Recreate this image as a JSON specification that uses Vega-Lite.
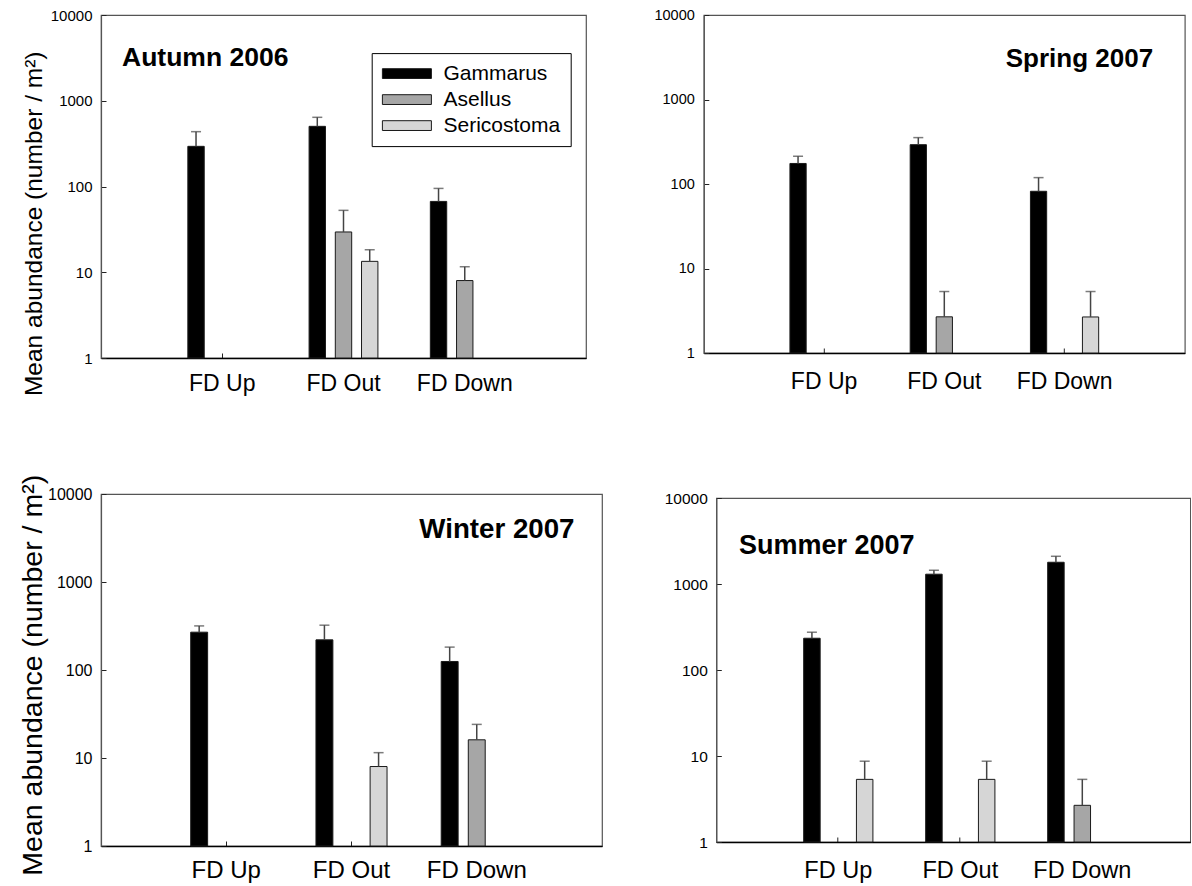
{
  "$schema": "https://vega.github.io/schema/vega-lite/v6.json",
  "padding": {"left": 17, "top": 6, "right": 0, "bottom": 0},
  "config": {
    "font": "Liberation Sans",
    "view": {"stroke": "#555555", "strokeWidth": 1.2},
    "axis": {"labelColor": "#000000", "titleColor": "#000000", "grid": false, "tickColor": "#222222", "labelFont": "Liberation Sans", "titleFont": "Liberation Sans", "titleFontWeight": "normal"},
    "axisX": {"domainColor": "#000000", "domainWidth": 1.5, "tickSize": -5, "tickWidth": 1, "labelAngle": 0},
    "axisY": {"domainColor": "#555555", "domainWidth": 1.2, "tickSize": -5, "tickWidth": 1},
    "title": {"font": "Liberation Sans", "color": "#000000", "fontWeight": "bold"}
  },
  "datasets": {
    "abund": [
      {"season": "Autumn 2006", "site": "FD Up", "species": "Gammarus", "mean": 294, "upper": 436},
      {"season": "Autumn 2006", "site": "FD Out", "species": "Gammarus", "mean": 503, "upper": 641},
      {"season": "Autumn 2006", "site": "FD Out", "species": "Asellus", "mean": 29.5, "upper": 52.7},
      {"season": "Autumn 2006", "site": "FD Out", "species": "Sericostoma", "mean": 13.4, "upper": 18.3},
      {"season": "Autumn 2006", "site": "FD Down", "species": "Gammarus", "mean": 67, "upper": 95},
      {"season": "Autumn 2006", "site": "FD Down", "species": "Asellus", "mean": 8.0, "upper": 11.6},
      {"season": "Spring 2007", "site": "FD Up", "species": "Gammarus", "mean": 175, "upper": 213},
      {"season": "Spring 2007", "site": "FD Out", "species": "Gammarus", "mean": 292, "upper": 354},
      {"season": "Spring 2007", "site": "FD Out", "species": "Asellus", "mean": 2.68, "upper": 5.34},
      {"season": "Spring 2007", "site": "FD Down", "species": "Gammarus", "mean": 82, "upper": 119},
      {"season": "Spring 2007", "site": "FD Down", "species": "Sericostoma", "mean": 2.67, "upper": 5.34},
      {"season": "Winter 2007", "site": "FD Up", "species": "Gammarus", "mean": 269, "upper": 317},
      {"season": "Winter 2007", "site": "FD Out", "species": "Gammarus", "mean": 220, "upper": 323},
      {"season": "Winter 2007", "site": "FD Out", "species": "Sericostoma", "mean": 8.0, "upper": 11.5},
      {"season": "Winter 2007", "site": "FD Down", "species": "Gammarus", "mean": 125, "upper": 182},
      {"season": "Winter 2007", "site": "FD Down", "species": "Asellus", "mean": 16.1, "upper": 24.1},
      {"season": "Summer 2007", "site": "FD Up", "species": "Gammarus", "mean": 234, "upper": 275},
      {"season": "Summer 2007", "site": "FD Up", "species": "Sericostoma", "mean": 5.35, "upper": 8.7},
      {"season": "Summer 2007", "site": "FD Out", "species": "Gammarus", "mean": 1300, "upper": 1445},
      {"season": "Summer 2007", "site": "FD Out", "species": "Sericostoma", "mean": 5.35, "upper": 8.7},
      {"season": "Summer 2007", "site": "FD Down", "species": "Gammarus", "mean": 1790, "upper": 2100},
      {"season": "Summer 2007", "site": "FD Down", "species": "Asellus", "mean": 2.67, "upper": 5.35}
    ]
  },
  "data": {"name": "abund"},
  "bounds": "flush",
  "spacing": 479,
  "resolve": {"scale": {"color": "independent", "xOffset": "independent"}, "legend": {"color": "independent"}},
  "vconcat": [
    {
      "hconcat": [
        {
          "width": 485, "height": 343,
          "title": {"text": "Autumn 2006", "anchor": "start", "frame": "group", "offset": -84.2, "dx": 21, "fontSize": 26.5, "baseline": "alphabetic"},
          "transform": [{"filter": "datum.season === 'Autumn 2006'"}],
          "encoding": {
            "x": {"field": "site", "type": "nominal", "title": null, "scale": {"domain": ["FD Up", "FD Out", "FD Down"], "paddingInner": 0, "paddingOuter": 0.5}, "axis": {"labelFontSize": 23, "labelPadding": 19}},
            "xOffset": {"field": "species", "type": "nominal", "scale": {"domain": ["Gammarus", "Asellus", "Sericostoma"], "paddingInner": 0.375, "paddingOuter": 1.1875}},
            "y": {"field": "mean", "type": "quantitative", "title": "Mean abundance (number / m²)", "scale": {"type": "log", "domain": [1, 10000]}, "axis": {"values": [1, 10, 100, 1000, 10000], "format": "d", "labelFontSize": 15, "labelPadding": 14, "titleFontSize": 24.5, "titleX": -59.6, "titleY": 208.3, "titleAngle": 270, "titleAlign": "center", "titleBaseline": "alphabetic"}}
          },
          "layer": [
            {
              "mark": {"type": "bar", "stroke": "#1a1a1a", "strokeWidth": 1},
              "encoding": {
                "y2": {"datum": 1},
                "color": {"field": "species", "type": "nominal", "scale": {"domain": ["Gammarus", "Asellus", "Sericostoma"], "range": ["#000000", "#a6a6a6", "#d6d6d6"]},
                  "legend": {"orient": "none", "legendX": 270.7, "legendY": 38.1, "title": null, "strokeColor": "#000000", "fillColor": "#ffffff", "padding": 10, "symbolType": "M-2.5,-0.5H2.5V0.5H-2.5Z", "symbolSize": 384, "symbolOffset": 14.7, "symbolStrokeColor": "#1a1a1a", "symbolStrokeWidth": 1, "labelFontSize": 21, "labelColor": "#000000", "labelOffset": 26.1, "rowPadding": 4}}
              }
            },
            {"mark": {"type": "rule", "color": "#444444", "strokeWidth": 1.5}, "encoding": {"y2": {"field": "upper"}}},
            {"mark": {"type": "tick", "orient": "horizontal", "size": 10, "thickness": 1.5, "color": "#444444"}, "encoding": {"y": {"field": "upper", "type": "quantitative", "title": "Mean abundance (number / m²)", "scale": {"type": "log", "domain": [1, 10000]}}}}
          ]
        },
        {
          "width": 481, "height": 338,
          "title": {"text": "Spring 2007", "anchor": "end", "frame": "group", "offset": -86.4, "dx": -31.7, "fontSize": 26, "baseline": "alphabetic"},
          "transform": [{"filter": "datum.season === 'Spring 2007'"}],
          "encoding": {
            "x": {"field": "site", "type": "nominal", "title": null, "scale": {"domain": ["FD Up", "FD Out", "FD Down"], "paddingInner": 0, "paddingOuter": 0.5}, "axis": {"labelFontSize": 23, "labelPadding": 22}},
            "xOffset": {"field": "species", "type": "nominal", "scale": {"domain": ["Gammarus", "Asellus", "Sericostoma"], "paddingInner": 0.375, "paddingOuter": 1.1875}},
            "y": {"field": "mean", "type": "quantitative", "title": null, "scale": {"type": "log", "domain": [1, 10000]}, "axis": {"values": [1, 10, 100, 1000, 10000], "format": "d", "labelFontSize": 14.5, "labelPadding": 14.5}}
          },
          "layer": [
            {
              "mark": {"type": "bar", "stroke": "#1a1a1a", "strokeWidth": 1},
              "encoding": {
                "y2": {"datum": 1},
                "color": {"field": "species", "type": "nominal", "scale": {"domain": ["Gammarus", "Asellus", "Sericostoma"], "range": ["#000000", "#a6a6a6", "#d6d6d6"]}, "legend": null}
              }
            },
            {"mark": {"type": "rule", "color": "#444444", "strokeWidth": 1.5}, "encoding": {"y2": {"field": "upper"}}},
            {"mark": {"type": "tick", "orient": "horizontal", "size": 10, "thickness": 1.5, "color": "#444444"}, "encoding": {"y": {"field": "upper", "type": "quantitative", "title": null, "scale": {"type": "log", "domain": [1, 10000]}}}}
          ]
        }
      ],
      "spacing": 117.8,
      "bounds": "flush",
      "resolve": {"scale": {"color": "independent", "xOffset": "independent"}, "legend": {"color": "independent"}}
    },
    {
      "hconcat": [
        {
          "width": 501, "height": 352,
          "title": {"text": "Winter 2007", "anchor": "end", "frame": "group", "offset": -91, "dx": -27.5, "fontSize": 27.7, "baseline": "alphabetic"},
          "transform": [{"filter": "datum.season === 'Winter 2007'"}],
          "encoding": {
            "x": {"field": "site", "type": "nominal", "title": null, "scale": {"domain": ["FD Up", "FD Out", "FD Down"], "paddingInner": 0, "paddingOuter": 0.5}, "axis": {"labelFontSize": 24, "labelPadding": 17}},
            "xOffset": {"field": "species", "type": "nominal", "scale": {"domain": ["Gammarus", "Asellus", "Sericostoma"], "paddingInner": 0.375, "paddingOuter": 1.1875}},
            "y": {"field": "mean", "type": "quantitative", "title": "Mean abundance (number / m²)", "scale": {"type": "log", "domain": [1, 10000]}, "axis": {"values": [1, 10, 100, 1000, 10000], "format": "d", "labelFontSize": 16, "labelPadding": 14, "titleFontSize": 28.5, "titleX": -59.6, "titleY": 180.75, "titleAngle": 270, "titleAlign": "center", "titleBaseline": "alphabetic"}}
          },
          "layer": [
            {
              "mark": {"type": "bar", "stroke": "#1a1a1a", "strokeWidth": 1},
              "encoding": {
                "y2": {"datum": 1},
                "color": {"field": "species", "type": "nominal", "scale": {"domain": ["Gammarus", "Asellus", "Sericostoma"], "range": ["#000000", "#a6a6a6", "#d6d6d6"]}, "legend": null}
              }
            },
            {"mark": {"type": "rule", "color": "#444444", "strokeWidth": 1.5}, "encoding": {"y2": {"field": "upper"}}},
            {"mark": {"type": "tick", "orient": "horizontal", "size": 10, "thickness": 1.5, "color": "#444444"}, "encoding": {"y": {"field": "upper", "type": "quantitative", "title": "Mean abundance (number / m²)", "scale": {"type": "log", "domain": [1, 10000]}}}}
          ]
        },
        {
          "width": 474, "height": 344,
          "title": {"text": "Summer 2007", "anchor": "start", "frame": "group", "offset": -90, "dx": 22.7, "fontSize": 27, "baseline": "alphabetic"},
          "transform": [{"filter": "datum.season === 'Summer 2007'"}],
          "encoding": {
            "x": {"field": "site", "type": "nominal", "title": null, "scale": {"domain": ["FD Up", "FD Out", "FD Down"], "paddingInner": 0, "paddingOuter": 0.4426, "align": 0.5648}, "axis": {"labelFontSize": 23.5, "labelPadding": 21}},
            "xOffset": {"field": "species", "type": "nominal", "scale": {"domain": ["Gammarus", "Asellus", "Sericostoma"], "paddingInner": 0.375, "paddingOuter": 1.1875}},
            "y": {"field": "mean", "type": "quantitative", "title": null, "scale": {"type": "log", "domain": [1, 10000]}, "axis": {"values": [1, 10, 100, 1000, 10000], "format": "d", "labelFontSize": 15.5, "labelPadding": 14}}
          },
          "layer": [
            {
              "mark": {"type": "bar", "stroke": "#1a1a1a", "strokeWidth": 1},
              "encoding": {
                "y2": {"datum": 1},
                "color": {"field": "species", "type": "nominal", "scale": {"domain": ["Gammarus", "Asellus", "Sericostoma"], "range": ["#000000", "#a6a6a6", "#d6d6d6"]}, "legend": null}
              }
            },
            {"mark": {"type": "rule", "color": "#444444", "strokeWidth": 1.5}, "encoding": {"y2": {"field": "upper"}}},
            {"mark": {"type": "tick", "orient": "horizontal", "size": 10, "thickness": 1.5, "color": "#444444"}, "encoding": {"y": {"field": "upper", "type": "quantitative", "title": null, "scale": {"type": "log", "domain": [1, 10000]}}}}
          ]
        }
      ],
      "spacing": 114.3,
      "bounds": "flush",
      "center": true,
      "resolve": {"scale": {"color": "independent", "xOffset": "independent"}, "legend": {"color": "independent"}}
    }
  ]
}
